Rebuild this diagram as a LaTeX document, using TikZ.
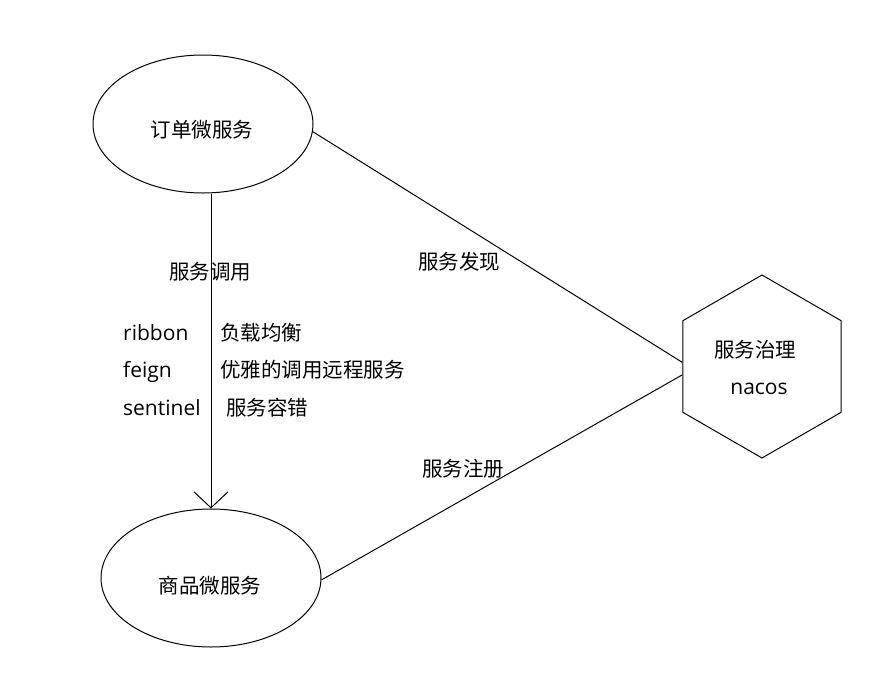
\documentclass[tikz,border=0pt]{standalone}
\usepackage{fontspec}
\setmainfont{Open Sans}
\newfontfamily\cjk{Noto Sans CJK SC}
\usetikzlibrary{shapes.geometric,arrows.meta}
\begin{document}
\begin{tikzpicture}[x=1pt,y=-1pt,
  ell/.style={draw, ellipse, line width=1pt, minimum width=220pt, minimum height=138pt, inner sep=0pt},
  hexa/.style={draw, regular polygon, regular polygon sides=6, shape border rotate=30, minimum size=183pt, inner sep=0pt, line width=1pt},
  zh/.style={font=\cjk\fontsize{20.5}{24}\selectfont, inner sep=0pt, text height=17pt, text depth=4pt},
  en/.style={font=\fontsize{21}{24}\selectfont, inner sep=0pt, text height=17pt, text depth=4pt},
  conn/.style={line width=1pt}
]
\useasboundingbox[fill=white] (0,0) rectangle (871,673);
\node[ell] (top) at (203,124) {};
\node[ell] (bot) at (211,578) {};
\node[hexa] (hex) at (762,366.5) {};
\node[zh] (topt) at (202,131) {订单微服务};
\node[zh] (bott) at (210,587) {商品微服务};
\node[zh] (hext1) at (755,351) {服务治理};
\node[en] (hext2) at (759,388) {nacos};
\node[zh] (call) at (210,273) {服务调用};
\node[en, anchor=west] (rib) at (123,334) {ribbon};
\node[zh, anchor=west] (ribd) at (220,334) {负载均衡};
\node[en, anchor=west] (fei) at (123,371) {feign};
\node[zh, anchor=west] (feid) at (220,371) {优雅的调用远程服务};
\node[en, anchor=west] (sen) at (123,409) {sentinel};
\node[zh, anchor=west] (send) at (226,409) {服务容错};
\node[zh] (disc) at (459,263) {服务发现};
\node[zh] (reg) at (463,470) {服务注册};
\draw[conn] (top.-4) -- (hex.177.5);
\draw[conn] (bot.-1) -- (hex.186);
\draw[conn, -{Straight Barb[length=16pt, width=34pt, line width=1pt]}] (top.south -| bot.north) -- (bot.north);
\end{tikzpicture}
\end{document}
